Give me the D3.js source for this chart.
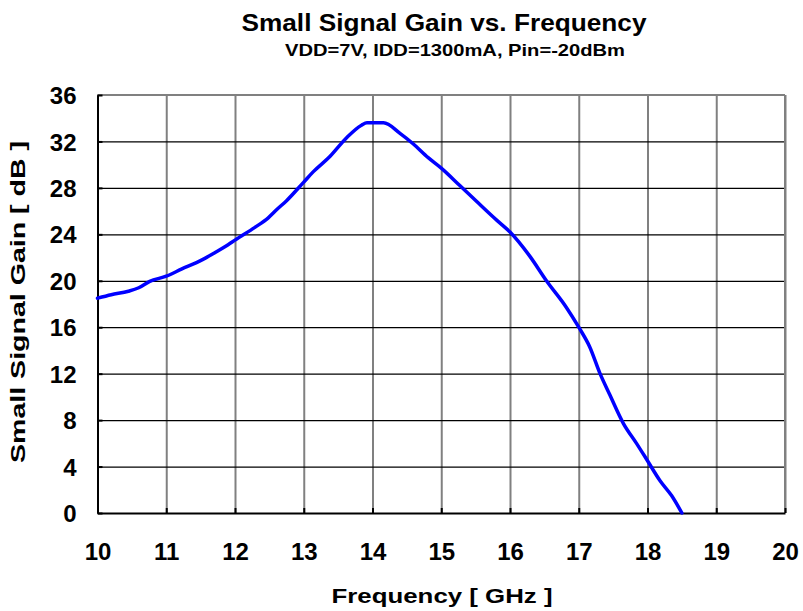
<!DOCTYPE html>
<html>
<head>
<meta charset="utf-8">
<script src="https://cdn.jsdelivr.net/npm/d3@7"></script>
<style>
  html, body { margin: 0; padding: 0; background: #fff; }
  svg { display: block; font-family: "Liberation Sans", Arial, sans-serif; }
</style>
</head>
<body>
<svg id="chart" width="803" height="611"></svg>
<script>
// Measured small-signal gain sweep
const freqGHz = [10.0, 10.2, 10.45, 10.6, 10.76, 11.0, 11.22, 11.52, 11.7, 11.9,
                 12.0, 12.29, 12.48, 12.62, 12.75, 13.0, 13.14, 13.38, 13.62, 13.84,
                 13.92, 14.02, 14.16, 14.4, 14.59, 14.81, 15.0, 15.27, 15.52, 15.81,
                 16.0, 16.29, 16.53, 16.82, 17.0, 17.16, 17.31, 17.45, 17.65, 17.84,
                 18.0, 18.18, 18.35, 18.5];
const gainDb = [18.5, 18.8, 19.1, 19.4, 19.95, 20.4, 21.0, 21.8, 22.4, 23.1,
                23.5, 24.6, 25.4, 26.2, 26.9, 28.5, 29.4, 30.7, 32.3, 33.4,
                33.6, 33.6, 33.6, 32.7, 31.8, 30.6, 29.7, 28.2, 26.8, 25.2,
                24.2, 22.1, 20.0, 17.7, 16.0, 14.3, 12.0, 10.2, 7.7, 6.0,
                4.5, 2.8, 1.5, 0.0];

const xTicks = [10, 11, 12, 13, 14, 15, 16, 17, 18, 19, 20];
const yTicks = [0, 4, 8, 12, 16, 20, 24, 28, 32, 36];

const titleText = "Small Signal Gain vs. Frequency";
const subtitleText = "VDD=7V, IDD=1300mA, Pin=-20dBm";
const xTitle = "Frequency [ GHz ]";
const yTitle = "Small Signal Gain [ dB ]";

const svg = d3.select("#chart");
const plot = { left: 97.5, right: 785, top: 95, bottom: 513 };
const w = plot.right - plot.left, h = plot.bottom - plot.top;

const x = d3.scaleLinear().domain([10, 20]).range([plot.left, plot.right]);
const y = d3.scaleLinear().domain([0, 36]).range([plot.bottom, plot.top]);

// vertical grid (gray)
const gx = svg.append("g")
  .attr("transform", `translate(0,${plot.bottom})`)
  .call(d3.axisBottom(x).tickValues(xTicks).tickSize(-h).tickFormat(""));
gx.select(".domain").remove();
gx.selectAll("line").attr("stroke", "#808080").attr("stroke-width", 2);

// horizontal grid (black)
const gy = svg.append("g")
  .attr("transform", `translate(${plot.left},0)`)
  .call(d3.axisLeft(y).tickValues(yTicks).tickSize(-w).tickFormat(""));
gy.select(".domain").remove();
gy.selectAll("line").attr("stroke", "#000").attr("stroke-width", 1.2);

// frame: top/right gray, left/bottom black
svg.append("line").attr("x1", plot.left).attr("x2", plot.right)
  .attr("y1", plot.top).attr("y2", plot.top).attr("stroke", "#808080").attr("stroke-width", 2);
svg.append("line").attr("x1", plot.right).attr("x2", plot.right)
  .attr("y1", plot.top).attr("y2", plot.bottom).attr("stroke", "#808080").attr("stroke-width", 2);

// short inner tick marks on left and bottom axes
const xAxis = svg.append("g")
  .attr("transform", `translate(0,${plot.bottom})`)
  .call(d3.axisBottom(x).tickValues(xTicks).tickSizeInner(-5).tickSizeOuter(0).tickPadding(0));
xAxis.select(".domain").attr("stroke", "#000").attr("stroke-width", 2);
xAxis.selectAll(".tick line").attr("stroke", "#000").attr("stroke-width", 2);
xAxis.selectAll(".tick text")
  .attr("y", 47).attr("dy", 0)
  .attr("font-size", 24).attr("font-weight", "bold").attr("fill", "#000")
  .attr("font-family", "'Liberation Sans', Arial, sans-serif");

const yAxis = svg.append("g")
  .attr("transform", `translate(${plot.left},0)`)
  .call(d3.axisLeft(y).tickValues(yTicks).tickSizeInner(-5).tickSizeOuter(0).tickPadding(21));
yAxis.select(".domain").attr("stroke", "#000").attr("stroke-width", 2);
yAxis.selectAll(".tick line").attr("stroke", "#000").attr("stroke-width", 2);
yAxis.selectAll(".tick text")
  .attr("dy", "0.36em")
  .attr("font-size", 24).attr("font-weight", "bold").attr("fill", "#000")
  .attr("font-family", "'Liberation Sans', Arial, sans-serif");

// gain curve
const pts = freqGHz.map((f, i) => [f, gainDb[i]]);
svg.append("path")
  .datum(pts)
  .attr("fill", "none")
  .attr("stroke", "#0000ff")
  .attr("stroke-width", 3.5)
  .attr("stroke-linejoin", "round")
  .attr("stroke-linecap", "round")
  .attr("d", d3.line().x(d => x(d[0])).y(d => y(d[1])).curve(d3.curveMonotoneX));

// titles
svg.append("text").attr("x", 444).attr("y", 31).attr("text-anchor", "middle")
  .attr("font-size", 24).attr("font-weight", "bold")
  .attr("textLength", 405).attr("lengthAdjust", "spacingAndGlyphs")
  .text(titleText);
svg.append("text").attr("x", 455).attr("y", 56).attr("text-anchor", "middle")
  .attr("font-size", 17).attr("font-weight", "bold")
  .attr("textLength", 340).attr("lengthAdjust", "spacingAndGlyphs")
  .text(subtitleText);
svg.append("text").attr("x", 442).attr("y", 603).attr("text-anchor", "middle")
  .attr("font-size", 21).attr("font-weight", "bold")
  .attr("textLength", 221).attr("lengthAdjust", "spacingAndGlyphs")
  .text(xTitle);
svg.append("text")
  .attr("transform", "translate(25,302) rotate(-90)")
  .attr("text-anchor", "middle")
  .attr("font-size", 21).attr("font-weight", "bold")
  .attr("textLength", 322).attr("lengthAdjust", "spacingAndGlyphs")
  .text(yTitle);
</script>
</body>
</html>
